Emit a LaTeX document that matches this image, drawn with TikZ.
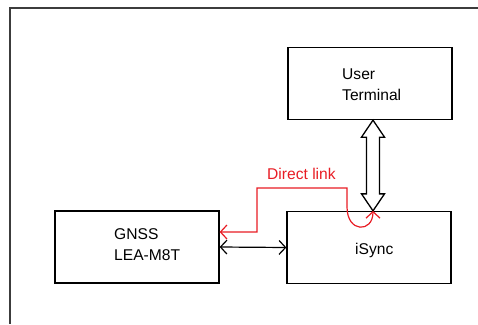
\documentclass[tikz,border=0pt]{standalone}
\usepackage{fontspec}
\setmainfont{Liberation Sans}
\usetikzlibrary{arrows.meta,calc}
\definecolor{linkred}{RGB}{232,28,36}
\definecolor{framegray}{RGB}{60,60,60}
\begin{document}
\begin{tikzpicture}[x=1pt,y=-1pt,
  box/.style={draw=black,line width=1.3pt,minimum width=164pt,minimum height=72pt,inner sep=0pt},
  txt/.style={font=\fontsize{15.6}{20.5}\selectfont,inner sep=0pt,align=left},
  conn/.style={line width=1.2pt,{Straight Barb[length=6.5pt,width=14pt]}-{Straight Barb[length=6.5pt,width=14pt]}},
  redconn/.style={draw=linkred,line width=1.2pt,{Straight Barb[length=6.5pt,width=14pt]}-{Straight Barb[length=6.5pt,width=14pt]}}]
\useasboundingbox (0,0) rectangle (478,324);
\draw[framegray,line width=1.5pt] (478,8) -- (10,8) -- (10,324);
\node[box] (ut) at (370,83.5) {};
\node[box] (gnss) at (137,247) {};
\node[box] (isync) at (369,247.5) {};
\node[txt,anchor=north west] (utt) at (342,69) {User\\Terminal};
\node[txt,anchor=north west] (gnsst) at (114,228.5) {GNSS\\LEA-M8T};
\node[txt,anchor=base west] (isynct) at (355,254) {iSync};
\node[txt,anchor=base west,text=linkred] (dl) at (267,179.3) {Direct link};
% double arrow
\coordinate (dt) at ($(ut.south)+(3,0)$);
\coordinate (db) at ($(isync.north)+(4,0)$);
\draw[line width=1.3pt,fill=white,line join=miter]
  (dt) -- ++(11.5,17) -- ++(-5,0) -- ($(db)+(6.5,-17)$) -- ++(5,0) -- (db)
  -- ++(-11.5,-17) -- ++(5,0) -- ($(dt)+(-6.5,17)$) -- ++(-5,0) -- cycle;
% GNSS <-> iSync
\draw[conn] (gnss.east) -- (isync.west);
% direct link
\coordinate (r0) at ($(gnss.east)+(0,-15)$);
\draw[redconn] (r0) -- (257,232) -- (257,188) -- (347,188) -- (347,207)
  .. controls (347,233) and (373,233) .. (db);
\end{tikzpicture}
\end{document}
